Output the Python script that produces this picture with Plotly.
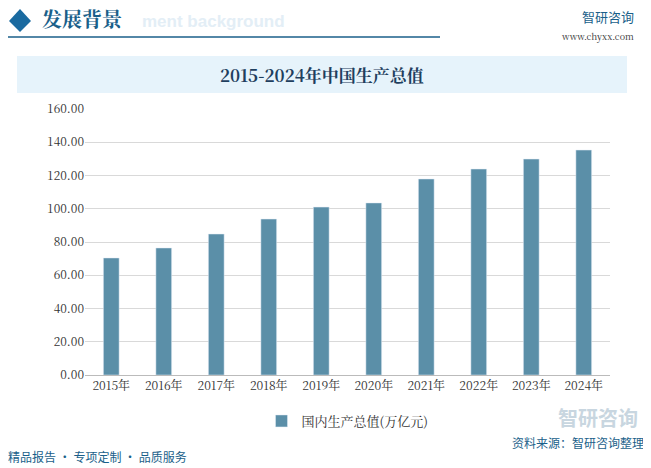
import plotly.graph_objects as go

years = ["2015年","2016年","2017年","2018年","2019年","2020年","2021年","2022年","2023年","2024年"]
gdp = [70.4, 76.4, 84.8, 93.8, 101.0, 103.5, 117.9, 123.9, 129.9, 135.3]
ticks = [0,20,40,60,80,100,120,140,160]
tick_text = ["%.2f" % t for t in ticks]

OX, OY = 8, 7
L, R, T, B = 85 - OX, 41 + OX, 108 - OY, 94 + OY
W, H = 651, 468
pw, ph = W - L - R, H - T - B
def px(x): return (x - OX - L) / pw
def py(y): return (H - B - (y - OY)) / ph

def ann(text, x, y, size, color, xanchor="center", family=None):
    f = dict(size=size, color=color)
    if family:
        f["family"] = family
    return dict(text=text, xref="paper", yref="paper", x=px(x), y=py(y), xanchor=xanchor,
                yanchor="middle", showarrow=False, font=f)

fig = go.Figure()
fig.add_trace(go.Bar(x=years, y=gdp, name="国内生产总值(万亿元)", marker_color="#5b8fa8", width=0.3))
fig.update_layout(
    width=W, height=H, margin=dict(l=L, r=R, t=T, b=B),
    paper_bgcolor="white", plot_bgcolor="white",
    font=dict(family="Noto Serif CJK SC, Noto Sans CJK SC", size=12, color="#333"),
    showlegend=True,
    legend=dict(orientation="h", x=0.5, xanchor="center", y=py(405), yanchor="top", font=dict(size=13)),
    yaxis=dict(range=[0,160], tickvals=ticks, ticktext=tick_text, showgrid=True, gridcolor="#d9d9d9",
               zeroline=False, ticks="", ticklen=0, tickfont=dict(size=12)),
    xaxis=dict(showline=True, linecolor="#bbb", tickfont=dict(size=12)),
    shapes=[
        dict(type="rect", xref="paper", yref="paper", x0=px(17), x1=px(627), y0=py(92), y1=py(55),
             fillcolor="#e6f3fb", line_width=0, layer="below"),
        dict(type="line", xref="paper", yref="paper", x0=px(2), x1=px(440), y0=py(36), y1=py(36),
             line=dict(color="#1a5f8a", width=1.5)),
        dict(type="path", xref="paper", yref="paper",
             path="M %f %f L %f %f L %f %f L %f %f Z" % (px(20), py(8), px(31), py(20), px(20), py(31), px(9), py(20)),
             fillcolor="#1a6aa0", line_width=0),
    ],
    annotations=[
        ann("<b>2015-2024年中国生产总值</b>", 322, 74, 17, "#1f3f5f"),
        ann("<b>ment background</b>", 140, 21, 17, "#e3eef6", "left", "Liberation Sans"),
        ann("<b>发展背景</b>", 40, 18, 20, "#1a5f8a", "left"),
        ann("智研咨询", 636, 16, 13, "#1a5f8a", "right", "Noto Sans CJK SC"),
        ann("www.chyxx.com", 636, 35, 9, "#333", "right"),
        ann("<b>智研咨询</b>", 640, 416, 20, "#c8d6e0", "right", "Noto Sans CJK SC"),
        ann("精品报告 · 专项定制 · 品质服务", 6, 455, 12, "#1a5f8a", "left", "Noto Sans CJK SC"),
        ann("资料来源：智研咨询整理", 646, 441, 12, "#1a5f8a", "right", "Noto Sans CJK SC"),
    ],
)
fig.write_html("out.html")
